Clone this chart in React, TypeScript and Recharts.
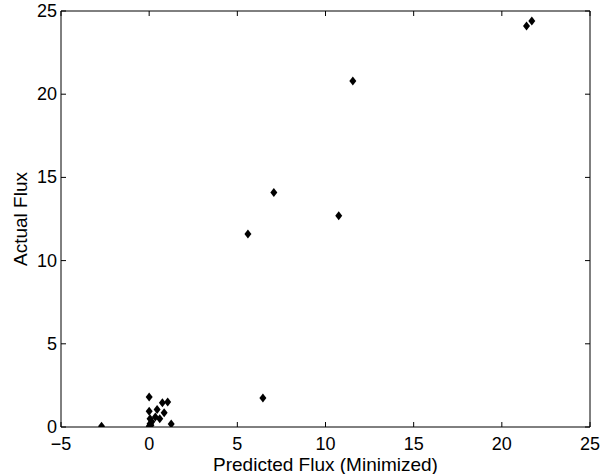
import { ScatterChart, Scatter, XAxis, YAxis, Label, ReferenceLine } from "recharts"

const predictedFlux = [-2.7, 0.0, 0.0, 0.05, 0.05, 0.0, 0.15, 0.1, 0.45, 0.35, 0.6, 0.85, 0.75, 1.05, 1.25, 5.6, 6.45, 7.07, 10.75, 11.55, 21.4, 21.7]
const actualFlux = [0.05, 1.8, 0.95, 0.5, 0.2, 0.05, 0.32, 0.1, 1.05, 0.6, 0.5, 0.85, 1.45, 1.5, 0.18, 11.6, 1.75, 14.1, 12.7, 20.8, 24.1, 24.4]
const xTicks = [-5, 0, 5, 10, 15, 20, 25]
const yTicks = [0, 5, 10, 15, 20, 25]

const points = predictedFlux.map((x, i) => ({ x, y: actualFlux[i] }))

const FONT = "'Liberation Sans', Arial, Helvetica, sans-serif"
const fmt = (v: number) => (v < 0 ? "\u2212" + Math.abs(v) : String(v))

const BottomTick = (props: any) => {
  const { x, y, payload } = props
  return <text x={x} y={y + 23} textAnchor="middle" fontSize={18} fontFamily={FONT} fill="#000">{fmt(payload.value)}</text>
}

const LeftTick = (props: any) => {
  const { x, y, payload } = props
  return <text x={x - 4} y={y + 6} textAnchor="end" fontSize={18} fontFamily={FONT} fill="#000">{fmt(payload.value)}</text>
}

// inward tick marks at both ends of a vertical reference line
const VTicks = (props: any) => {
  const { x1, y1, x2, y2 } = props
  const top = Math.min(y1, y2), bot = Math.max(y1, y2)
  return <g>
    <line x1={x1} x2={x2} y1={top} y2={top + 5} stroke="#000" />
    <line x1={x1} x2={x2} y1={bot} y2={bot - 5} stroke="#000" />
  </g>
}

// inward tick marks at both ends of a horizontal reference line
const HTicks = (props: any) => {
  const { x1, y1, x2, y2 } = props
  const l = Math.min(x1, x2), r = Math.max(x1, x2)
  return <g>
    <line x1={l} x2={l + 5} y1={y1} y2={y2} stroke="#000" />
    <line x1={r} x2={r - 5} y1={y1} y2={y2} stroke="#000" />
  </g>
}

const Diamond = (props: any) => {
  const { cx, cy } = props
  return <path d={`M${cx},${cy - 4.5}L${cx + 3.5},${cy}L${cx},${cy + 4.5}L${cx - 3.5},${cy}Z`} fill="#000" />
}

export default function App() {
  return <div style={{ position: "absolute", left: 0, top: 0, width: 600, height: 474, background: "#fff" }}>
    <ScatterChart width={600} height={474} margin={{ top: 11, right: 10, bottom: 0, left: 0 }}>
      <XAxis type="number" dataKey="x" domain={[-5, 25]} ticks={xTicks} allowDataOverflow
        height={47} tickSize={0} tickMargin={0} tickLine={false} tick={<BottomTick />} stroke="#000" interval={0}>
        <Label content={(p: any) => {
          const vb = p.viewBox
          return <text x={vb.x + vb.width / 2} y={471} textAnchor="middle" fontSize={19} fontFamily={FONT} fill="#000">Predicted Flux (Minimized)</text>
        }} />
      </XAxis>
      <YAxis type="number" dataKey="y" domain={[0, 25]} ticks={yTicks} allowDataOverflow
        width={61} tickSize={0} tickMargin={0} tickLine={false} tick={<LeftTick />} stroke="#000" interval={0}>
        <Label content={(p: any) => {
          const vb = p.viewBox
          const cy = vb.y + vb.height / 2
          return <text x={27} y={cy} transform={`rotate(-90, 27, ${cy})`} textAnchor="middle" fontSize={19} fontFamily={FONT} fill="#000">Actual Flux</text>
        }} />
      </YAxis>
      <ReferenceLine x={25} stroke="#000" />
      <ReferenceLine y={25} stroke="#000" />
      {xTicks.map(t => <ReferenceLine key={"x" + t} x={t} shape={<VTicks />} />)}
      {yTicks.map(t => <ReferenceLine key={"y" + t} y={t} shape={<HTicks />} />)}
      <Scatter data={points} shape={<Diamond />} isAnimationActive={false} />
    </ScatterChart>
  </div>
}
